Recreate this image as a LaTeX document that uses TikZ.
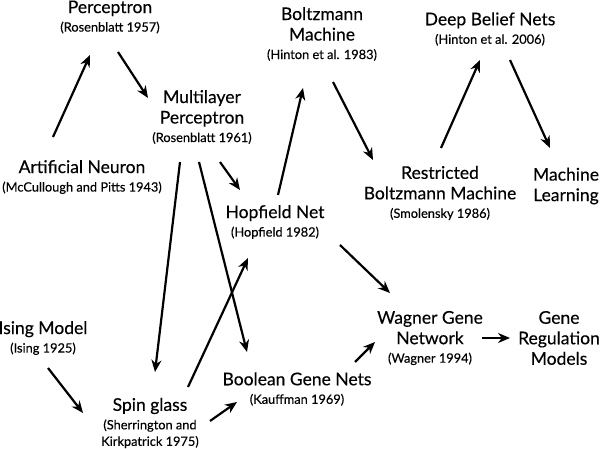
\documentclass[tikz,border=0pt]{standalone}
\usepackage{fontspec}
\setmainfont{Lato}[FakeBold=0.3]
\usetikzlibrary{arrows.meta}

\newcommand{\ano}[1]{{\fontsize{12.8}{14}\selectfont #1}}

\begin{document}
\begin{tikzpicture}[x=1pt, y=-1pt, >={Stealth[length=12pt,width=10pt]},
    conceito/.style={align=center, inner sep=0pt, font=\fontsize{17.5}{20.5}\selectfont},
    seta/.style={->, line width=2.2pt}]

    \useasboundingbox (0,0) rectangle (600,449);

    % redes neurais
    \node[conceito] (perceptron) at (110,17) {Perceptron\\[-2pt]\ano{(Rosenblatt 1957)}};
    \node[conceito] (multicamada) at (202,117) {Multilayer\\Perceptron\\[-2pt]\ano{(Rosenblatt 1961)}};
    \node[conceito] (neuronio) at (82,177) {Artificial Neuron\\[-2pt]\ano{(McCullough and Pitts 1943)}};
    \node[conceito] (hopfield) at (275,222) {Hopfield Net\\[-2pt]\ano{(Hopfield 1982)}};

    % maquinas de boltzmann
    \node[conceito] (boltzmann) at (322,34) {Boltzmann\\Machine\\[-2pt]\ano{(Hinton et al. 1983)}};
    \node[conceito] (rbm) at (440,193) {Restricted\\Boltzmann Machine\\[-2pt]\ano{(Smolensky 1986)}};
    \node[conceito] (dbn) at (490,29) {Deep Belief Nets\\[-2pt]\ano{(Hinton et al. 2006)}};
    \node[conceito] (aprendizado) at (566,186) {Machine\\Learning};

    % fisica e genetica
    \node[conceito] (ising) at (43,338) {Ising Model\\[-2pt]\ano{(Ising 1925)}};
    \node[conceito] (spin) at (150,423) {Spin glass\\[-2pt]\ano{(Sherrington and}\\[-4pt]\ano{Kirkpatrick 1975)}};
    \node[conceito] (booleana) at (297,389) {Boolean Gene Nets\\[-2pt]\ano{(Kauffman 1969)}};
    \node[conceito] (wagner) at (430,338) {Wagner Gene\\Network\\[-2pt]\ano{(Wagner 1994)}};
    \node[conceito] (regulacao) at (559,338) {Gene\\Regulation\\Models};

    % setas
    \draw[seta] ([shift={(-29,-40)}]neuronio.center) -- ([shift={(-20,38)}]perceptron.center);
    \draw[seta] ([shift={(8,35)}]perceptron.center) -- ([shift={(-54,-19)}]multicamada.center);
    \draw[seta] ([shift={(18,45)}]multicamada.center) -- ([shift={(-35,-32)}]hopfield.center);
    \draw[seta] ([shift={(-22,45)}]multicamada.center) -- ([shift={(5,-51)}]spin.center);
    \draw[seta] ([shift={(-3,45)}]multicamada.center) -- ([shift={(-50,-37)}]booleana.center);
    \draw[seta] ([shift={(38,-36)}]spin.center) -- ([shift={(-27,36)}]hopfield.center);
    \draw[seta] ([shift={(3,-27)}]hopfield.center) -- ([shift={(-19,54)}]boltzmann.center);
    \draw[seta] ([shift={(11,48)}]boltzmann.center) -- ([shift={(-67,-33)}]rbm.center);
    \draw[seta] ([shift={(1,-45)}]rbm.center) -- ([shift={(-10,31)}]dbn.center);
    \draw[seta] ([shift={(20,31)}]dbn.center) -- ([shift={(-16,-38)}]aprendizado.center);
    \draw[seta] ([shift={(5,30)}]ising.center) -- ([shift={(-67,-10)}]spin.center);
    \draw[seta] ([shift={(60,-2)}]spin.center) -- ([shift={(-60,13)}]booleana.center);
    \draw[seta] ([shift={(58,-27)}]booleana.center) -- ([shift={(-55,4)}]wagner.center);
    \draw[seta] ([shift={(65,23)}]hopfield.center) -- ([shift={(-40,-45)}]wagner.center);
    \draw[seta] ([shift={(52,0)}]wagner.center) -- ([shift={(-49,0)}]regulacao.center);

\end{tikzpicture}
\end{document}
